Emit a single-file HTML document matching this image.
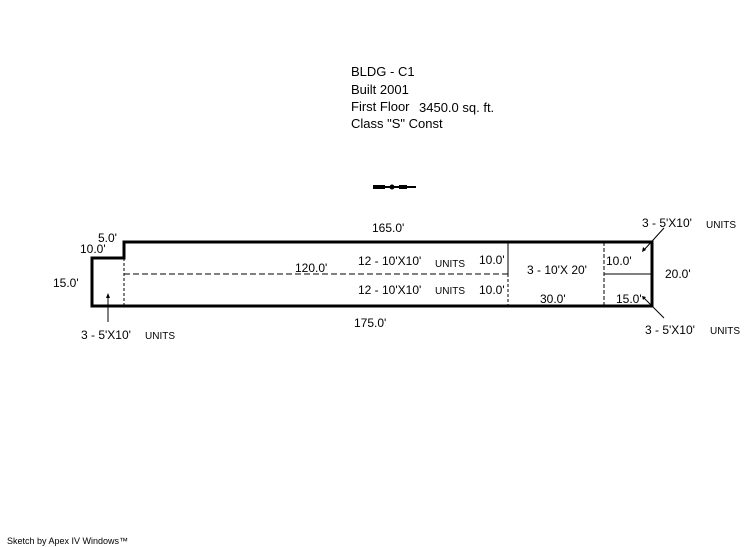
<!DOCTYPE html>
<html><head><meta charset="utf-8"><style>
html,body{margin:0;padding:0;background:#fff;width:746px;height:547px;overflow:hidden}
svg{display:block}
text{font-family:"Liberation Sans",sans-serif;fill:#000}
</style></head><body>
<svg width="746" height="547" viewBox="0 0 746 547">
<g font-size="13">
<text x="351" y="76">BLDG - C1</text>
<text x="351" y="94">Built 2001</text>
<text x="351" y="111">First Floor</text>
<text x="419" y="112">3450.0 sq. ft.</text>
<text x="351" y="128">Class "S" Const</text>
</g>
<!-- compass -->
<g stroke="#000" stroke-width="2">
<line x1="373" y1="187" x2="416" y2="187"/>
</g>
<rect x="373" y="185" width="12" height="4" fill="#000"/>
<circle cx="392" cy="187" r="2.5" fill="#000"/>
<rect x="399" y="185" width="8" height="4" fill="#000"/>
<!-- outline -->
<path d="M92,258 H124 V242 H652 V306 H92 Z" fill="none" stroke="#000" stroke-width="3"/>
<g stroke="#000" stroke-width="1" fill="none">
<line x1="124" y1="258" x2="124" y2="306" stroke-dasharray="3,2"/>
<line x1="124" y1="274" x2="508" y2="274" stroke-dasharray="6,3"/>
<line x1="508" y1="242" x2="508" y2="274"/>
<line x1="508" y1="274" x2="508" y2="306" stroke-dasharray="3,2"/>
<line x1="604" y1="242" x2="604" y2="306" stroke-dasharray="4,2"/>
<line x1="604" y1="274" x2="652" y2="274"/>
<line x1="108" y1="297" x2="108" y2="322"/>
<line x1="644" y1="250" x2="664" y2="228"/>
<line x1="644" y1="298" x2="664" y2="318"/>
</g>
<path d="M108,293 l-2,5 h4 z" fill="#000"/>
<path d="M642,252 l1,-5 l3,3 z" fill="#000"/>
<path d="M642,296 l4,1 l-3,3 z" fill="#000"/>
<g font-size="12">
<text x="98" y="242">5.0'</text>
<text x="80" y="253">10.0'</text>
<text x="53" y="287">15.0'</text>
<text x="372" y="232">165.0'</text>
<text x="295" y="272">120.0'</text>
<text x="358" y="265">12 - 10'X10'</text>
<text x="358" y="294">12 - 10'X10'</text>
<text x="479" y="264">10.0'</text>
<text x="479" y="294">10.0'</text>
<text x="527" y="274">3 - 10'X 20'</text>
<text x="540" y="303">30.0'</text>
<text x="606" y="265">10.0'</text>
<text x="616" y="303">15.0'</text>
<text x="665" y="278">20.0'</text>
<text x="354" y="327">175.0'</text>
<text x="81" y="339">3 - 5'X10'</text>
<text x="642" y="227">3 - 5'X10'</text>
<text x="645" y="334">3 - 5'X10'</text>
</g>
<g font-size="10">
<text x="435" y="267">UNITS</text>
<text x="435" y="294">UNITS</text>
<text x="145" y="339">UNITS</text>
<text x="706" y="228">UNITS</text>
<text x="710" y="334">UNITS</text>
</g>
<text x="7" y="544" font-size="9">Sketch by Apex IV Windows™</text>
</svg>
</body></html>
